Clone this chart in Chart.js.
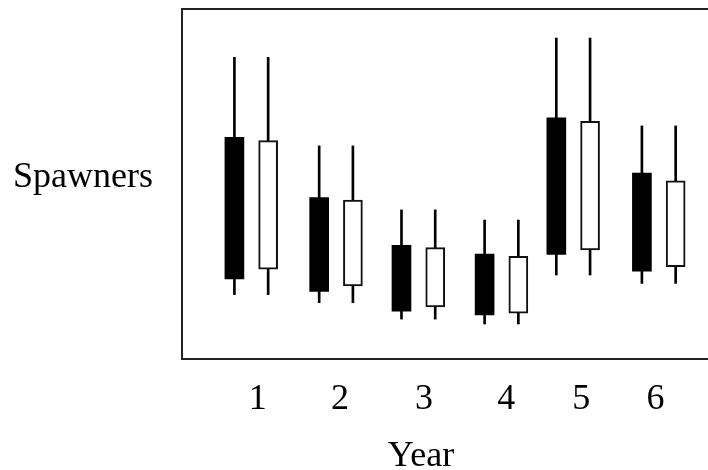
<!DOCTYPE html>
<html>
<head>
<meta charset="utf-8">
<script src="https://cdn.jsdelivr.net/npm/chart.js@4"></script>
<style>
  html, body { margin: 0; padding: 0; background: #fff; }
  #wrap { width: 708px; height: 470px; }
</style>
</head>
<body>
<div id="wrap"><canvas id="chart" width="708" height="470"></canvas></div>
<script>
// Year categories, where each pair of boxes sits, and where each year label goes
const years = ['1', '2', '3', '4', '5', '6'];
const yearCenters = [1.00, 2.04, 3.05, 4.07, 4.95, 6.00];
const yearLabelPos = [1.08, 2.09, 3.12, 4.13, 5.05, 5.96];

// Filled (black) series: box range and whisker range
const filledBoxLow      = [22.9, 19.3, 13.7, 12.6, 29.9, 25.1];
const filledBoxHigh     = [63.3, 46.1, 32.5, 30.0, 68.9, 53.1];
const filledWhiskerLow  = [18.4, 16.1, 11.4, 10.0, 24.0, 21.6];
const filledWhiskerHigh = [86.2, 60.9, 42.6, 39.7, 91.7, 66.6];

// Open (white) series: box range and whisker range
const openBoxLow      = [25.7, 20.9, 14.9, 13.1, 31.2, 26.4];
const openBoxHigh     = [62.4, 45.4, 31.8, 29.3, 67.9, 50.9];
const openWhiskerLow  = [18.4, 16.1, 11.4, 10.0, 24.0, 21.6];
const openWhiskerHigh = [86.2, 60.9, 42.6, 39.7, 91.7, 66.6];

// half the distance between the two boxes of a year, in year units
const PAIR_HALF_GAP = 0.207;

const FONT = '"Liberation Serif", "Times New Roman", serif';

function rangeData(offset, lows, highs) {
  return years.map((_, i) => ({ x: yearCenters[i] + offset, y: [lows[i], highs[i]] }));
}

const whiskerStyle = {
  backgroundColor: '#000',
  borderWidth: 0,
  maxBarThickness: 2,
  grouped: false,
  barPercentage: 1,
  categoryPercentage: 1,
  order: 2
};

// frame around the plot area and the two axis titles
const framePlugin = {
  id: 'frameAndTitles',
  afterDraw(chart) {
    const { ctx, chartArea: a } = chart;
    ctx.save();
    ctx.strokeStyle = '#222';
    ctx.lineWidth = 2;
    ctx.beginPath();
    ctx.moveTo(a.right + 4, a.top);
    ctx.lineTo(a.left, a.top);
    ctx.lineTo(a.left, a.bottom);
    ctx.lineTo(a.right + 4, a.bottom);
    ctx.stroke();

    ctx.fillStyle = '#000';
    ctx.font = '36px ' + FONT;
    ctx.textBaseline = 'alphabetic';
    ctx.textAlign = 'left';
    ctx.fillText('Spawners', 13, 187);
    ctx.textAlign = 'center';
    ctx.fillText('Year', 421, 466);
    ctx.restore();
  }
};

new Chart(document.getElementById('chart'), {
  type: 'bar',
  data: {
    datasets: [
      Object.assign({ label: 'filled whiskers', data: rangeData(-PAIR_HALF_GAP, filledWhiskerLow, filledWhiskerHigh) }, whiskerStyle),
      Object.assign({ label: 'open whiskers', data: rangeData(PAIR_HALF_GAP, openWhiskerLow, openWhiskerHigh) }, whiskerStyle),
      {
        label: 'filled boxes',
        data: rangeData(-PAIR_HALF_GAP, filledBoxLow, filledBoxHigh),
        backgroundColor: '#000',
        borderWidth: 0,
        maxBarThickness: 19,
        grouped: false,
        barPercentage: 1,
        categoryPercentage: 1,
        order: 1
      },
      {
        label: 'open boxes',
        data: rangeData(PAIR_HALF_GAP, openBoxLow, openBoxHigh),
        backgroundColor: '#fff',
        borderColor: '#111',
        borderWidth: 2,
        borderSkipped: false,
        maxBarThickness: 19,
        grouped: false,
        barPercentage: 1,
        categoryPercentage: 1,
        order: 1
      }
    ]
  },
  options: {
    responsive: false,
    animation: false,
    devicePixelRatio: 1,
    layout: { padding: { top: 9, right: 0, bottom: 0, left: 0 } },
    plugins: { legend: { display: false }, tooltip: { enabled: false } },
    scales: {
      x: {
        type: 'linear',
        min: 0.150,
        max: 6.604,
        offset: false,
        grid: { display: false, drawTicks: false },
        border: { display: false },
        afterBuildTicks(axis) {
          axis.ticks = yearLabelPos.map(v => ({ value: v }));
        },
        afterFit(axis) { axis.height = 111; },
        ticks: {
          autoSkip: false,
          maxRotation: 0,
          padding: 23,
          color: '#000',
          font: { family: FONT, size: 36, lineHeight: 1 },
          callback: (value, index) => years[index]
        }
      },
      y: {
        type: 'linear',
        min: 0,
        max: 100,
        grid: { display: false, drawTicks: false },
        border: { display: false },
        ticks: { display: false },
        afterFit(axis) { axis.width = 182; }
      }
    }
  },
  plugins: [framePlugin]
});
</script>
</body>
</html>
